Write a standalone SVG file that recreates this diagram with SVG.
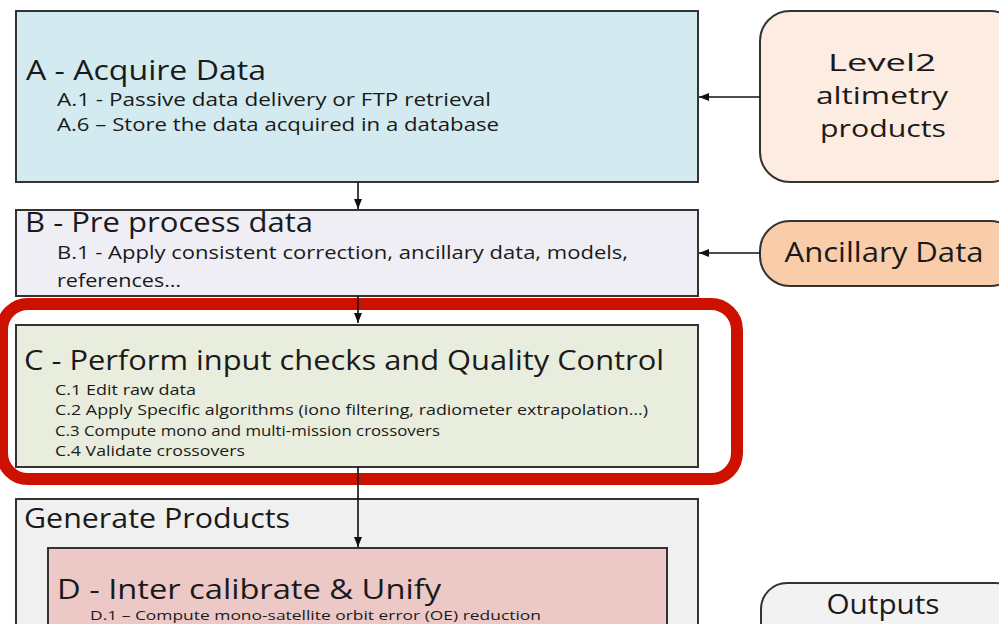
<svg xmlns="http://www.w3.org/2000/svg" width="999" height="624" viewBox="0 0 999 624">
  <defs>
    <marker id="arrow" viewBox="0 0 10 10" refX="10" refY="5" markerWidth="10" markerHeight="10" markerUnits="userSpaceOnUse" orient="auto">
      <path d="M0,1 L10,5 L0,9 z" fill="#111"/>
    </marker>
  </defs>
  <style>
    text { font-family: "Comic Sans MS", "Open Sans", "DejaVu Sans", sans-serif; fill: #1a1a1a; }
    .box { stroke: #333; stroke-width: 2; }
    .src { stroke: #333; stroke-width: 2; }
    .title { font-size: 27px; }
    .sub { font-size: 18px; }
    .small { font-size: 14px; }
    .tiny { font-size: 13px; }
    .ext { font-size: 27px; text-anchor: middle; }
    .stack { font-size: 24px; }
    .link { stroke: #111; stroke-width: 1.6; fill: none; marker-end: url(#arrow); }
  </style>

  <rect width="999" height="624" fill="#ffffff"/>

  <!-- process steps -->
  <g id="node-a">
    <rect class="box" x="16" y="11" width="682" height="171" fill="#d3eaf0"/>
    <text class="title" x="26" y="80" textLength="240" lengthAdjust="spacingAndGlyphs">A - Acquire Data</text>
    <text class="sub" x="57" y="106" textLength="434" lengthAdjust="spacingAndGlyphs">A.1 - Passive data delivery or FTP retrieval</text>
    <text class="sub" x="57" y="131" textLength="442" lengthAdjust="spacingAndGlyphs">A.6 – Store the data acquired in a database</text>
  </g>

  <g id="node-b">
    <rect class="box" x="16" y="210" width="682" height="86" fill="#efeef4"/>
    <text class="title" x="25" y="232" textLength="288" lengthAdjust="spacingAndGlyphs">B - Pre process data</text>
    <text class="sub" x="57" y="259" textLength="571" lengthAdjust="spacingAndGlyphs">B.1 - Apply consistent correction, ancillary data, models,</text>
    <text class="sub" x="57" y="287" textLength="124" lengthAdjust="spacingAndGlyphs">references…</text>
  </g>

  <g id="node-c">
    <rect class="box" x="16" y="325" width="682" height="142" fill="#e9eddd"/>
    <text class="title" x="24" y="370" style="font-size:28px" textLength="640" lengthAdjust="spacingAndGlyphs">C - Perform input checks and Quality Control</text>
    <text class="small" x="55" y="395" textLength="141" lengthAdjust="spacingAndGlyphs">C.1 Edit raw data</text>
    <text class="small" x="55" y="415" textLength="593" lengthAdjust="spacingAndGlyphs">C.2 Apply Specific algorithms (iono filtering, radiometer extrapolation…)</text>
    <text class="small" x="55" y="436" textLength="385" lengthAdjust="spacingAndGlyphs">C.3 Compute mono and multi-mission crossovers</text>
    <text class="small" x="55" y="456" textLength="190" lengthAdjust="spacingAndGlyphs">C.4 Validate crossovers</text>
  </g>

  <!-- highlight around step C -->
  <rect id="highlight" x="2" y="304" width="735" height="175" rx="26" fill="none" stroke="#cc1100" stroke-width="12"/>

  <g id="group-generate">
    <rect class="box" x="16" y="499" width="682" height="140" fill="#f0f0f0"/>
    <text class="title" x="24" y="528" textLength="266" lengthAdjust="spacingAndGlyphs">Generate Products</text>
  </g>

  <g id="node-d">
    <rect class="box" x="48" y="548" width="619" height="100" fill="#ecc9c7"/>
    <text class="title" x="57" y="599" style="font-size:28px" textLength="384" lengthAdjust="spacingAndGlyphs">D - Inter calibrate &amp; Unify</text>
    <text class="tiny" x="90" y="620" textLength="451" lengthAdjust="spacingAndGlyphs">D.1 – Compute mono-satellite orbit error (OE) reduction</text>
  </g>

  <!-- external inputs and outputs -->
  <g id="node-level2">
    <rect class="src" x="760" y="11" width="260" height="171" rx="30" fill="#fcece1"/>
    <text class="ext stack" x="882" y="71" textLength="108" lengthAdjust="spacingAndGlyphs">Level2</text>
    <text class="ext stack" x="882" y="104" textLength="132" lengthAdjust="spacingAndGlyphs">altimetry</text>
    <text class="ext stack" x="883" y="137" textLength="126" lengthAdjust="spacingAndGlyphs">products</text>
  </g>

  <g id="node-ancillary">
    <rect class="src" x="760" y="221" width="260" height="65" rx="30" fill="#f9cda9"/>
    <text class="ext" x="884" y="262" textLength="199" lengthAdjust="spacingAndGlyphs">Ancillary Data</text>
  </g>

  <g id="node-outputs">
    <rect class="src" x="761" y="583" width="260" height="80" rx="26" fill="#f2f2f2"/>
    <text class="ext" x="883" y="614" textLength="113" lengthAdjust="spacingAndGlyphs">Outputs</text>
  </g>

  <!-- connectors -->
  <g id="connectors">
    <line class="link" x1="358" y1="182" x2="358" y2="209"/>
    <line class="link" x1="358" y1="296" x2="358" y2="323"/>
    <line class="link" x1="358" y1="467" x2="358" y2="547"/>
    <line class="link" x1="760" y1="97" x2="699" y2="97"/>
    <line class="link" x1="760" y1="253" x2="699" y2="253"/>
  </g>
</svg>
